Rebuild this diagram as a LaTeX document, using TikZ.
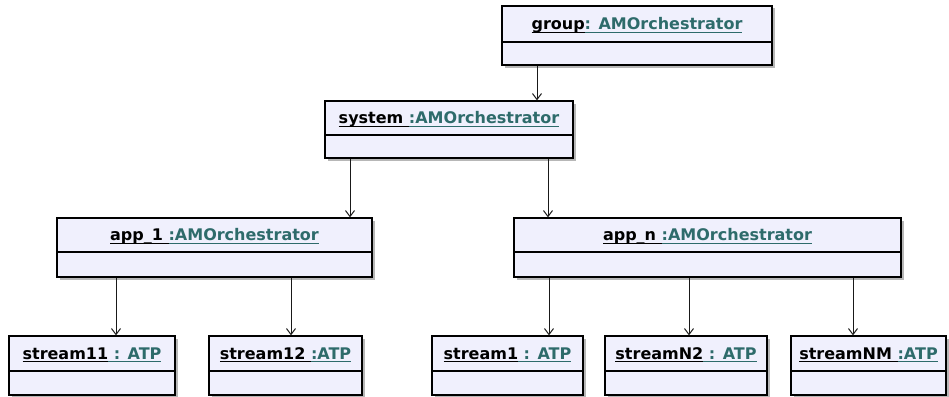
\documentclass[tikz,border=0pt]{standalone}
\usepackage{fontspec}
\setmainfont{DejaVu Sans}
\usetikzlibrary{arrows.meta,shadows}
\definecolor{boxfill}{HTML}{F0F0FD}
\definecolor{clsteal}{HTML}{2E6B6B}
\newcommand\ulx[1]{\setbox0\hbox{#1}\rlap{\rule[-3.4pt]{\wd0}{1.2pt}}\box0}
\newcommand\objlbl[2]{\ulx{#1}\textcolor{clsteal}{\ulx{#2}}}
\tikzset{
  objbox/.style={draw=black, line width=1.3pt, fill=boxfill, rectangle, inner sep=0pt,
    drop shadow={shadow xshift=2.5pt, shadow yshift=-2.5pt, fill=black!40, opacity=0.7}},
  divline/.style={draw=black, line width=1.1pt},
  lbl/.style={font=\fontsize{16}{18}\selectfont\bfseries, inner sep=0pt, text=black},
  arr/.style={draw=black!90, line width=1pt, -{Straight Barb[length=6pt,width=9pt,line width=1pt]}}
}
\newcommand\umlobj[7]{%
  \node[objbox, minimum width={#4-#2}, minimum height={#5-#3}] (#1) at ({(#2+#4)/2},{(#3+#5)/2}) {};
  \draw[divline] (#1.west |- 0,#6) -- (#1.east |- 0,#6);
  \node[lbl, anchor=base] (#1-l) at ({(#2+#4)/2},{(#3+#6)/2+5.5}) {#7};}
\begin{document}
\begin{tikzpicture}[x=1pt,y=-1pt]
\useasboundingbox (0,0) rectangle (949,396);
\umlobj{group}{502}{6}{772}{65}{42}{\objlbl{group}{: AMOrchestrator}}
\umlobj{system}{325}{101}{573}{158}{135}{\objlbl{system }{:AMOrchestrator}}
\umlobj{app1}{57}{218}{372}{277}{252}{\objlbl{app\_1 }{:AMOrchestrator}}
\umlobj{appn}{514}{218}{901}{277}{252}{\objlbl{app\_n }{:AMOrchestrator}}
\umlobj{s11}{9}{336}{175}{395}{371}{\objlbl{stream11}{ : ATP}}
\umlobj{s12}{209}{336}{362}{395}{371}{\objlbl{stream12 }{:ATP}}
\umlobj{s1}{432}{336}{583}{395}{371}{\objlbl{stream1}{ : ATP}}
\umlobj{sn2}{605}{336}{767}{395}{371}{\objlbl{streamN2}{ : ATP}}
\umlobj{snm}{791}{336}{946}{395}{371}{\objlbl{streamNM }{:ATP}}
\draw[arr] (537,0 |- group.south) -- (537,0 |- system.north);
\draw[arr] (350,0 |- system.south) -- (350,0 |- app1.north);
\draw[arr] (548,0 |- system.south) -- (548,0 |- appn.north);
\draw[arr] (116,0 |- app1.south) -- (116,0 |- s11.north);
\draw[arr] (291,0 |- app1.south) -- (291,0 |- s12.north);
\draw[arr] (549,0 |- appn.south) -- (549,0 |- s1.north);
\draw[arr] (689,0 |- appn.south) -- (689,0 |- sn2.north);
\draw[arr] (853,0 |- appn.south) -- (853,0 |- snm.north);
\end{tikzpicture}
\end{document}
